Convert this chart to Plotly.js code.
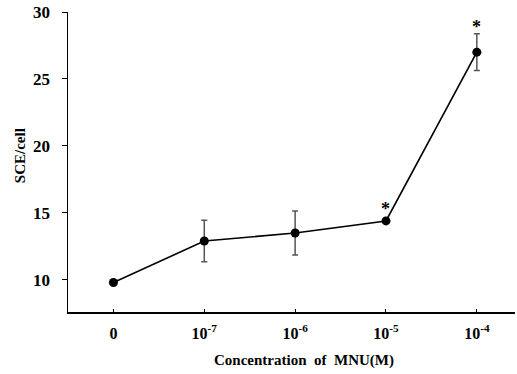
<!DOCTYPE html>
<html>
<head>
<meta charset="utf-8">
<script src="https://cdn.plot.ly/plotly-3.0.1.min.js"></script>
<style>html,body{margin:0;padding:0;background:#fff;}#chart{width:517px;height:374px;}</style>
</head>
<body>
<div id="chart"></div>
<script>
// Data
var concentrations = ['0', '10<sup>-7</sup>', '10<sup>-6</sup>', '10<sup>-5</sup>', '10<sup>-4</sup>'];
var sceValues = [9.8, 12.9, 13.5, 14.4, 27.0];
var sceErrors = [0, 1.55, 1.65, 0.1, 1.37];
var significant = [false, false, false, true, true];
var yTicks = [10, 15, 20, 25, 30];

var xIdx = concentrations.map(function (_, i) { return i; });
var serif = 'Liberation Serif';

var trace = {
  x: xIdx,
  y: sceValues,
  type: 'scatter',
  mode: 'lines+markers',
  line: {color: '#000', width: 1.6},
  marker: {color: '#000', size: 9},
  error_y: {type: 'data', array: sceErrors, visible: true, color: '#555', thickness: 1.5, width: 3},
  hoverinfo: 'none',
  showlegend: false
};

var annotations = [];
xIdx.forEach(function (i) {
  if (significant[i]) {
    annotations.push({
      x: i, y: sceValues[i] + sceErrors[i], xref: 'x', yref: 'y',
      text: '*', showarrow: false, yanchor: 'bottom',
      yshift: sceErrors[i] > 0.5 ? -5 : -1,
      font: {family: serif, size: 18, color: '#000', weight: 'bold'}
    });
  }
});
annotations.push({
  text: 'Concentration  of  MNU(M)', xref: 'paper', yref: 'paper',
  x: 0.527, y: -0.125, xanchor: 'center', yanchor: 'top', showarrow: false,
  font: {family: serif, size: 15, color: '#000', weight: 'bold'}
});
annotations.push({
  text: 'SCE/cell', xref: 'paper', yref: 'paper',
  x: -0.107, y: 0.52, xanchor: 'center', yanchor: 'middle', textangle: -90, showarrow: false,
  font: {family: serif, size: 15, color: '#000', weight: 'bold'}
});

var layout = {
  width: 517, height: 374,
  margin: {l: 68, r: 2, t: 12, b: 62, pad: 0},
  paper_bgcolor: '#fff', plot_bgcolor: '#fff',
  xaxis: {
    range: [-0.5, 4.42], tickvals: xIdx, ticktext: concentrations,
    showline: true, linecolor: '#000', linewidth: 1.5, ticks: 'inside', ticklen: 3, tickcolor: '#000',
    showgrid: false, zeroline: false,
    tickfont: {family: serif, size: 16, color: '#000', weight: 'bold'},
    ticklabelstandoff: 6
  },
  yaxis: {
    range: [7.6, 30], tickvals: yTicks,
    showline: true, linecolor: '#000', linewidth: 1.5, ticks: 'outside', ticklen: 5, tickcolor: '#000',
    showgrid: false, zeroline: false,
    tickfont: {family: serif, size: 17, color: '#000', weight: 'bold'},
    ticklabelstandoff: 8
  },
  annotations: annotations
};

Plotly.newPlot('chart', [trace], layout, {displayModeBar: false, staticPlot: true});
</script>
</body>
</html>
